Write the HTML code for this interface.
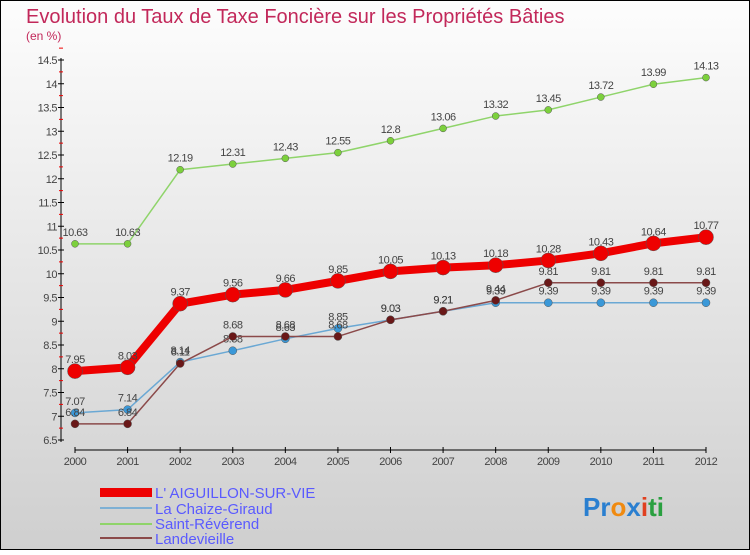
<!DOCTYPE html>
<html><head><meta charset="utf-8"><style>
html,body{margin:0;padding:0}
body{width:750px;height:550px;overflow:hidden;font-family:"Liberation Sans",sans-serif}
svg text{font-family:"Liberation Sans",sans-serif}
</style></head><body>
<svg id="c" width="750" height="550">
<defs><linearGradient id="bg" x1="0" y1="0" x2="0" y2="1"><stop offset="0" stop-color="#fdfdfd"/><stop offset="1" stop-color="#cfcfcf"/></linearGradient></defs>
<rect x="0.5" y="0.5" width="749" height="549" fill="url(#bg)" stroke="#000"/>
<text x="26" y="23" font-size="20" fill="#c2285a">Evolution du Taux de Taxe Foncière sur les Propriétés Bâties</text>
<text x="26" y="40" font-size="12" fill="#c2285a">(en %)</text>
<g id="axes"></g><g id="series"></g>
<g>
<rect x="100" y="488" width="52" height="9" fill="#e00"/>
<text x="155" y="498" font-size="15" fill="#5a5aff">L' AIGUILLON-SUR-VIE</text>
<line x1="100" y1="508" x2="152" y2="508" stroke="#7eb0d4" stroke-width="2"/>
<text x="155" y="514" font-size="15" fill="#5a5aff">La Chaize-Giraud</text>
<line x1="100" y1="524" x2="152" y2="524" stroke="#8fd46a" stroke-width="2"/>
<text x="155" y="529" font-size="15" fill="#5a5aff">Saint-Révérend</text>
<line x1="100" y1="538" x2="152" y2="538" stroke="#8b4a4a" stroke-width="2"/>
<text x="155" y="544" font-size="15" fill="#5a5aff">Landevieille</text>
</g>
<text x="583" y="516" font-size="26" font-weight="bold"><tspan fill="#2a7fd0">Pr</tspan><tspan fill="#f08a10">o</tspan><tspan fill="#2a7fd0">x</tspan><tspan fill="#e04020">i</tspan><tspan fill="#2aa040">ti</tspan></text>
</svg>
<script>
const years=[2000,2001,2002,2003,2004,2005,2006,2007,2008,2009,2010,2011,2012];
const aiguillon=[7.95,8.03,9.37,9.56,9.66,9.85,10.05,10.13,10.18,10.28,10.43,10.64,10.77];
const chaize=[7.07,7.14,8.14,8.38,8.63,8.85,9.03,9.21,9.39,9.39,9.39,9.39,9.39];
const reverend=[10.63,10.63,12.19,12.31,12.43,12.55,12.8,13.06,13.32,13.45,13.72,13.99,14.13];
const landevieille=[6.84,6.84,8.11,8.68,8.68,8.68,9.03,9.21,9.44,9.81,9.81,9.81,9.81];
const yTicks=[6.5,7,7.5,8,8.5,9,9.5,10,10.5,11,11.5,12,12.5,13,13.5,14,14.5];
const NS="http://www.w3.org/2000/svg";
const X=i=>75+i*(706-75)/12, Y=v=>440-(v-6.5)*47.5;
function mk(t,a,p){const e=document.createElementNS(NS,t);for(const k in a)e.setAttribute(k,a[k]);p.appendChild(e);return e;}
const ax=document.getElementById('axes'), sg=document.getElementById('series');
let yl=mk('line',{x1:61,y1:58,x2:61,y2:442,stroke:'#000'},ax);


yTicks.forEach(v=>{
 mk('line',{x1:58,y1:Y(v),x2:64,y2:Y(v),stroke:'#000'},ax);
 mk('line',{x1:59,y1:Y(v+0.25),x2:63,y2:Y(v+0.25),stroke:'#e00'},ax);
 const t=mk('text',{x:57,y:Y(v)+4,'font-size':11,fill:'#444','text-anchor':'end','letter-spacing':'-0.5'},ax);
 
 
 t.textContent=String(v);
});
let xl=mk('line',{x1:75,y1:450,x2:706,y2:450,stroke:'#000'},ax);


years.forEach((y,i)=>{
 mk('line',{x1:X(i),y1:447,x2:X(i),y2:453,stroke:'#000'},ax);
 const t=mk('text',{x:X(i),y:465,'font-size':11,fill:'#444','text-anchor':'middle','letter-spacing':'-0.5'},ax);
 
 
 t.textContent=y;
});
function series(d,name,col,dot,w,r){
 const g=mk('g',{},sg);
 
 
 mk('polyline',{points:d.map((v,i)=>X(i)+','+Y(v)).join(' '),fill:'none',stroke:col,'stroke-width':w,'stroke-linejoin':'round'},g);
 d.forEach((v,i)=>{
  const c=mk('circle',{cx:X(i),cy:Y(v),r:r,fill:dot,stroke:'#555','stroke-width':0.5},g);
  
  
  const t=mk('text',{x:X(i),y:Y(v)-8,'font-size':11,fill:'#444','text-anchor':'middle','letter-spacing':'-0.5'},g);
  
  
  t.textContent=String(v);
 });
}
series(reverend,'saint-reverend','#8fd46a','#7cd03c',1.5,3.5);
series(chaize,'la-chaize-giraud','#6aa8d4','#3a98d8',1.5,4);
series(landevieille,'landevieille','#8b4a4a','#6a1818',1.5,4);
series(aiguillon,'aiguillon-sur-vie','#ee0000','#ee0000',8,7.5);
</script>
</body></html>
